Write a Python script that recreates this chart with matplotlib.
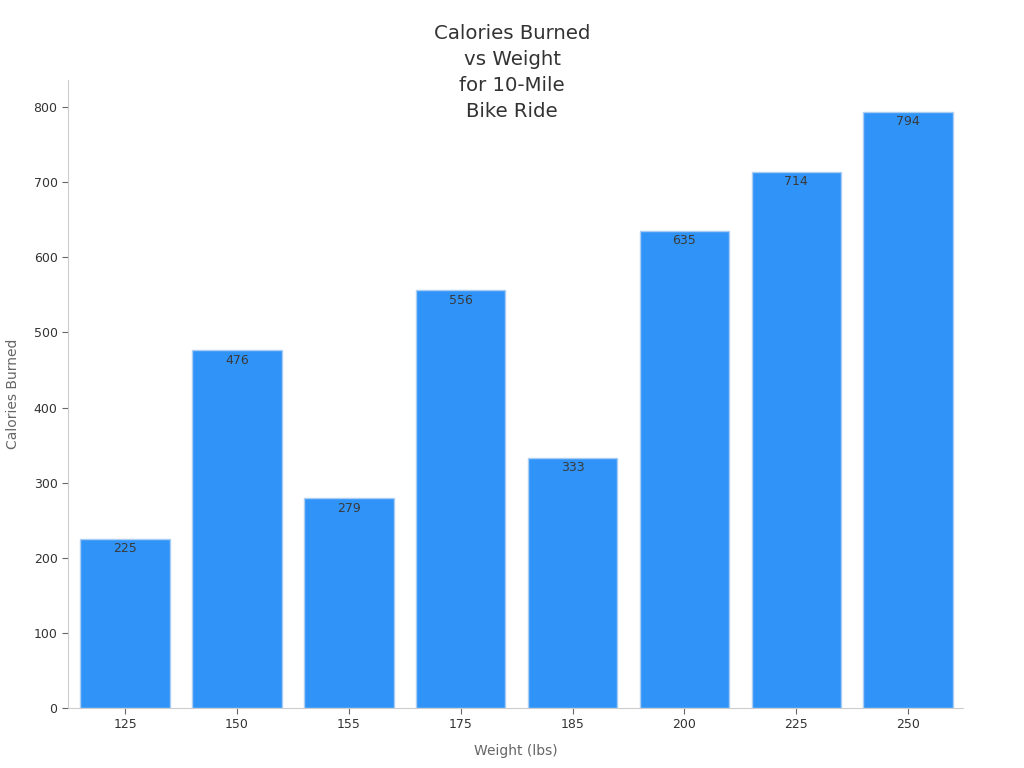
import matplotlib
matplotlib.use("Agg")
import matplotlib.pyplot as plt

weights = ["125", "150", "155", "175", "185", "200", "225", "250"]
calories = [225, 476, 279, 556, 333, 635, 714, 794]

bar_color = "#2f93f8"
edge_color = "#a9cdf3"
text_color = "#333333"
spine_color = "#cccccc"

fig = plt.figure(figsize=(10.24, 7.68), dpi=100)
ax = fig.add_axes([0.0664, 0.0781, 0.874, 0.8177])

x = list(range(len(weights)))
bars = ax.bar(x, calories, width=0.8, color=bar_color, edgecolor=edge_color, linewidth=1)
for xi, v in zip(x, calories):
    ax.annotate(str(v), (xi, v), xytext=(0, -2.5), textcoords="offset points",
                ha="center", va="top", fontsize=9, color="#3a3a3a")

ax.set_xticks(x)
ax.set_xticklabels(weights)
ax.set_xlim(-0.51, 7.49)
ax.set_ylim(0, 836)
ax.set_yticks(range(0, 801, 100))

for s in ["top", "right"]:
    ax.spines[s].set_visible(False)
for s in ["left", "bottom"]:
    ax.spines[s].set_color(spine_color)
ax.tick_params(axis="both", colors="#666666", labelcolor=text_color, labelsize=9, length=4)

ax.set_xlabel("Weight (lbs)", fontsize=10, color="#666666", labelpad=9)
ax.set_ylabel("Calories Burned", fontsize=10, color="#666666", labelpad=10)

fig.text(0.5, 0.969, "Calories Burned\nvs Weight\nfor 10-Mile\nBike Ride", ha="center", va="top",
         fontsize=14.2, color=text_color, linespacing=1.48)

fig.savefig("out.png", dpi=100)
